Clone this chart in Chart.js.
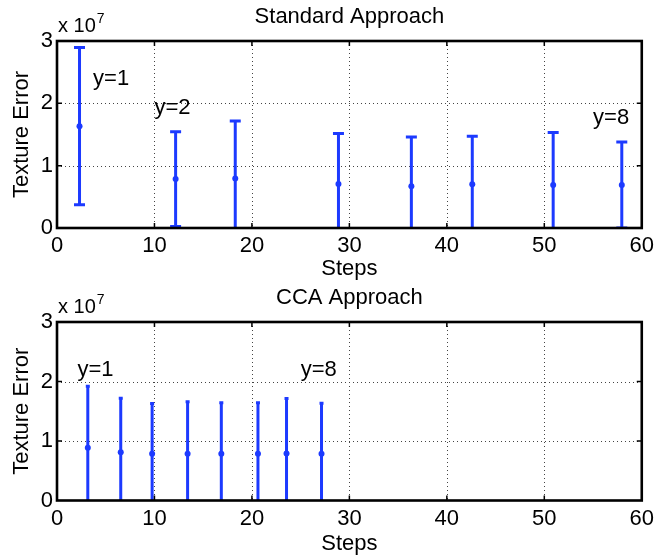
<!DOCTYPE html>
<html><head><meta charset="utf-8">
<script src="https://cdn.jsdelivr.net/npm/chart.js@4/dist/chart.umd.min.js"></script>
<style>
html,body{margin:0;padding:0;background:#fff;}
body{width:659px;height:557px;position:relative;overflow:hidden;}
canvas{position:absolute;left:0;}
#c1{top:0;}
#c2{top:280px;}
</style></head><body>
<canvas id="c1" width="659" height="290"></canvas>
<canvas id="c2" width="659" height="277"></canvas>
<script>
// ---- data ----
const xTicks = [0, 10, 20, 30, 40, 50, 60];
const yTicks = [0, 1e7, 2e7, 3e7];
const yExponentLabel = ['x 10', '7'];

const stdTitle = 'Standard Approach';
const stdSteps = [2.31, 12.17, 18.29, 28.88, 36.36, 42.61, 50.91, 57.95];
const stdMean  = [1.634e7, 0.785e7, 0.796e7, 0.705e7, 0.668e7, 0.70e7, 0.689e7, 0.689e7];
const stdErr   = [1.26e7, 0.76e7, 0.92e7, 0.81e7, 0.79e7, 0.77e7, 0.845e7, 0.69e7];
const stdNotes = ['y=1', 'y=2', 'y=8'];
const stdNoteX = [3.7, 10.0, 55.0];
const stdNoteY = [2.39e7, 1.92e7, 1.76e7];

const ccaTitle = 'CCA Approach';
const ccaSteps = [3.16, 6.54, 9.76, 13.4, 16.86, 20.62, 23.55, 27.14];
const ccaMean  = [0.886e7, 0.809e7, 0.785e7, 0.785e7, 0.785e7, 0.785e7, 0.792e7, 0.785e7];
const ccaErr   = [1.035e7, 0.91e7, 0.846e7, 0.873e7, 0.856e7, 0.856e7, 0.923e7, 0.851e7];
const ccaNotes = ['y=1', 'y=8'];
const ccaNoteX = [2.1, 25.0];
const ccaNoteY = [2.19e7, 2.19e7];

const xTitle = 'Steps';
const yTitle = 'Texture Error';

// ---- styles ----
const BLUE = 'rgb(28,58,255)';
const FONT = 'Liberation Sans, Arial, Helvetica, sans-serif';
const font22 = {family: FONT, size: 22};

const decoPlugin = {
  id: 'deco',
  beforeDatasetsDraw(chart, args, o) {
    const {ctx, chartArea: a, scales: {x, y}} = chart;
    ctx.save();
    // dotted grid
    ctx.strokeStyle = '#444';
    ctx.lineWidth = 1;
    ctx.setLineDash([1, 3]);
    xTicks.forEach(v => {
      if (v <= x.min || v >= x.max) return;
      const px = Math.round(x.getPixelForValue(v)) + 0.5;
      ctx.beginPath(); ctx.moveTo(px, a.top); ctx.lineTo(px, a.bottom); ctx.stroke();
    });
    yTicks.forEach(v => {
      if (v <= y.min || v >= y.max) return;
      const py = Math.round(y.getPixelForValue(v)) + 0.5;
      ctx.beginPath(); ctx.moveTo(a.left, py); ctx.lineTo(a.right, py); ctx.stroke();
    });
    ctx.setLineDash([]);
    // error bars
    ctx.beginPath(); ctx.rect(a.left, a.top, a.right - a.left, a.bottom - a.top); ctx.clip();
    ctx.strokeStyle = BLUE;
    ctx.lineWidth = 3;
    o.steps.forEach((s, i) => {
      const px = x.getPixelForValue(s);
      const hi = y.getPixelForValue(o.mean[i] + o.err[i]);
      const lo = y.getPixelForValue(o.mean[i] - o.err[i]);
      ctx.beginPath(); ctx.moveTo(px, hi); ctx.lineTo(px, lo); ctx.stroke();
      ctx.beginPath();
      ctx.moveTo(px - o.cap, hi); ctx.lineTo(px + o.cap, hi);
      ctx.moveTo(px - o.cap, lo); ctx.lineTo(px + o.cap, lo);
      ctx.stroke();
    });
    ctx.restore();
  },
  afterDraw(chart, args, o) {
    const {ctx, chartArea: a, scales: {x, y}} = chart;
    ctx.save();
    // inner ticks
    ctx.strokeStyle = '#000';
    ctx.lineWidth = 1.5;
    const tl = 5;
    xTicks.forEach(v => {
      if (v <= x.min || v >= x.max) return;
      const px = x.getPixelForValue(v);
      ctx.beginPath();
      ctx.moveTo(px, a.bottom); ctx.lineTo(px, a.bottom - tl);
      ctx.moveTo(px, a.top); ctx.lineTo(px, a.top + tl);
      ctx.stroke();
    });
    yTicks.forEach(v => {
      if (v <= y.min || v >= y.max) return;
      const py = y.getPixelForValue(v);
      ctx.beginPath();
      ctx.moveTo(a.left, py); ctx.lineTo(a.left + tl, py);
      ctx.moveTo(a.right, py); ctx.lineTo(a.right - tl, py);
      ctx.stroke();
    });
    // box
    ctx.lineWidth = 2.6;
    ctx.strokeRect(a.left, a.top, a.right - a.left, a.bottom - a.top);
    // title
    ctx.fillStyle = '#000';
    ctx.font = '22px ' + FONT;
    ctx.textAlign = 'center';
    ctx.textBaseline = 'alphabetic';
    ctx.fillText(o.title, (a.left + a.right) / 2, a.top - 18);
    // exponent label
    ctx.textAlign = 'left';
    ctx.font = '20px ' + FONT;
    ctx.fillText(yExponentLabel[0], a.left + 1, a.top - 9);
    const w = ctx.measureText(yExponentLabel[0]).width;
    ctx.font = '14px ' + FONT;
    ctx.fillText(yExponentLabel[1], a.left + 1 + w + 1, a.top - 18);
    // annotations
    ctx.font = '22px ' + FONT;
    ctx.textBaseline = 'middle';
    o.notes.forEach((t, i) => {
      ctx.fillText(t, x.getPixelForValue(o.noteX[i]), y.getPixelForValue(o.noteY[i]));
    });
    ctx.restore();
  }
};

function makeChart(id, cfg) {
  return new Chart(document.getElementById(id), {
    type: 'scatter',
    data: {
      datasets: [{
        data: cfg.steps.map((s, i) => ({x: s, y: cfg.mean[i]})),
        pointRadius: 3,
        pointBackgroundColor: BLUE,
        pointBorderWidth: 0,
        showLine: false
      }]
    },
    options: {
      responsive: false,
      animation: false,
      devicePixelRatio: 1,
      layout: {padding: cfg.padding},
      plugins: {
        legend: {display: false},
        tooltip: {enabled: false},
        deco: {
          steps: cfg.steps, mean: cfg.mean, err: cfg.err, cap: cfg.cap,
          title: cfg.title, notes: cfg.notes, noteX: cfg.noteX, noteY: cfg.noteY
        }
      },
      scales: {
        x: {
          type: 'linear', min: 0, max: 60,
          afterBuildTicks: s => { s.ticks = xTicks.map(v => ({value: v})); },
          grid: {display: false, drawTicks: false},
          border: {display: false},
          ticks: {font: font22, color: '#000', padding: 5, maxRotation: 0, autoSkip: false},
          title: {display: true, text: xTitle, font: font22, color: '#000', padding: {top: 0, bottom: cfg.xTitlePad}},
          afterFit: s => { s.height = cfg.xh; }
        },
        y: {
          type: 'linear', min: 0, max: 3e7,
          afterBuildTicks: s => { s.ticks = yTicks.map(v => ({value: v})); },
          grid: {display: false, drawTicks: false},
          border: {display: false},
          ticks: {font: font22, color: '#000', padding: 4, callback: v => String(v / 1e7)},
          title: {display: true, text: yTitle, font: font22, color: '#000', padding: {top: 9, bottom: 0}},
          afterFit: s => { s.width = 57; }
        }
      }
    },
    plugins: [decoPlugin]
  });
}

makeChart('c1', {
  steps: stdSteps, mean: stdMean, err: stdErr, cap: 5.5, title: stdTitle,
  notes: stdNotes, noteX: stdNoteX, noteY: stdNoteY,
  padding: {top: 41, left: 0, right: 16, bottom: 8}, xh: 54, xTitlePad: 0
});
makeChart('c2', {
  steps: ccaSteps, mean: ccaMean, err: ccaErr, cap: 2, title: ccaTitle,
  notes: ccaNotes, noteX: ccaNoteX, noteY: ccaNoteY,
  padding: {top: 42, left: 0, right: 16, bottom: 0}, xh: 56.5, xTitlePad: 0
});
</script>
</body></html>
